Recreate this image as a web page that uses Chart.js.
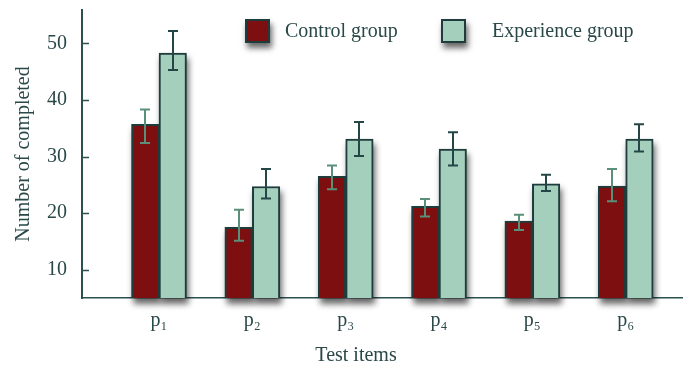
<!DOCTYPE html>
<html>
<head>
<meta charset="utf-8">
<script src="https://cdn.jsdelivr.net/npm/chart.js@4.4.1/dist/chart.umd.min.js"></script>
<style>
  html, body { margin: 0; padding: 0; background: #ffffff; }
  canvas { display: block; }
</style>
</head>
<body>
<canvas id="chart" width="683" height="367"></canvas>
<script>
// Test items and their subscript tick labels
const categories = ['p1', 'p2', 'p3', 'p4', 'p5', 'p6'];
const tickLabels = ['p\u2081', 'p\u2082', 'p\u2083', 'p\u2084', 'p\u2085', 'p\u2086'];
const yTicks = [10, 20, 30, 40, 50];

// Mean number of completed items per group
const controlValues = [35.7, 17.5, 26.5, 21.2, 18.6, 24.8];
const experienceValues = [48.3, 24.7, 33.1, 31.3, 25.2, 33.1];

// Error bar extents (low / high)
const controlLow = [32.4, 15.1, 24.2, 19.4, 17.0, 22.1];
const controlHigh = [38.3, 20.6, 28.4, 22.5, 19.7, 27.8];
const experienceLow = [45.3, 22.6, 30.1, 28.4, 23.9, 30.9];
const experienceHigh = [52.2, 27.8, 36.1, 34.3, 26.8, 35.7];

const seriesNames = ['Control group', 'Experience group'];

const TEXT = '#2a4848';
const EDGE = '#1f3c3c';
const AXIS = '#2b5050';
const RED = '#7d0f10';
const GREEN = '#a5cfbd';
const FONT = "'Liberation Serif', 'Times New Roman', serif";
const Y_MIN = 5;

const toPoints = vals => vals.map((v, i) => ({ x: i + 1, y: v }));

// Blurred drop shadow behind each bar, painted from the bar elements' geometry
const barShadow = {
  id: 'barShadow',
  beforeDatasetsDraw(chart) {
    const ctx = chart.ctx;
    ctx.save();
    ctx.filter = 'blur(3px)';
    ctx.fillStyle = 'rgba(0,0,0,0.6)';
    chart.data.datasets.forEach((ds, d) => {
      chart.getDatasetMeta(d).data.forEach(bar => {
        const p = bar.getProps(['x', 'y', 'base', 'width'], true);
        ctx.fillRect(p.x - p.width / 2 + 2, p.y + 5, p.width, p.base - p.y + 1);
      });
    });
    ctx.restore();
  }
};

// Error bars drawn on top of each bar
const errorBars = {
  id: 'errorBars',
  afterDatasetsDraw(chart) {
    const ctx = chart.ctx;
    const y = chart.scales.y;
    const specs = [
      { low: controlLow, high: controlHigh, color: '#5a8f79' },
      { low: experienceLow, high: experienceHigh, color: '#244646' }
    ];
    ctx.save();
    specs.forEach((s, d) => {
      const meta = chart.getDatasetMeta(d);
      meta.data.forEach((bar, i) => {
        const x = Math.round(bar.x);
        const yl = y.getPixelForValue(s.low[i]);
        const yh = y.getPixelForValue(s.high[i]);
        const cap = 5;
        ctx.strokeStyle = s.color;
        ctx.lineWidth = 2;
        ctx.beginPath();
        ctx.moveTo(x, yl); ctx.lineTo(x, yh);
        ctx.moveTo(x - cap, yh); ctx.lineTo(x + cap, yh);
        ctx.moveTo(x - cap, yl); ctx.lineTo(x + cap, yl);
        ctx.stroke();
      });
    });
    ctx.restore();
  }
};

// Inward tick marks on the value axis, x-axis title and legend
const decorations = {
  id: 'decorations',
  afterDraw(chart) {
    const ctx = chart.ctx;
    const y = chart.scales.y;
    const area = chart.chartArea;
    ctx.save();
    ctx.strokeStyle = AXIS;
    ctx.lineWidth = 1.5;
    ctx.beginPath();
    yTicks.forEach(t => {
      const py = Math.round(y.getPixelForValue(t)) + 0.5;
      ctx.moveTo(area.left, py);
      ctx.lineTo(area.left + 7, py);
    });
    ctx.stroke();

    ctx.fillStyle = TEXT;
    ctx.font = '20px ' + FONT;
    ctx.textAlign = 'center';
    ctx.textBaseline = 'alphabetic';
    ctx.fillText('Test items', 356, 361);

    // legend
    const items = [
      { box: 245, text: 285, color: RED, label: chart.data.datasets[0].label },
      { box: 441, text: 492, color: GREEN, label: chart.data.datasets[1].label }
    ];
    items.forEach(it => {
      ctx.save();
      ctx.shadowColor = 'rgba(0,0,0,0.6)';
      ctx.shadowBlur = 6;
      ctx.shadowOffsetX = 2;
      ctx.shadowOffsetY = 5;
      ctx.fillStyle = it.color;
      ctx.fillRect(it.box, 19, 25, 24);
      ctx.restore();
      ctx.strokeStyle = EDGE;
      ctx.lineWidth = 2;
      ctx.strokeRect(it.box + 1, 20, 23, 22);
      ctx.fillStyle = TEXT;
      ctx.textAlign = 'left';
      ctx.textBaseline = 'alphabetic';
      ctx.fillText(it.label, it.text, 37);
    });
    ctx.restore();
  }
};

new Chart(document.getElementById('chart'), {
  type: 'bar',
  data: {
    datasets: [
      {
        label: seriesNames[0],
        data: toPoints(controlValues),
        backgroundColor: RED,
        borderColor: EDGE,
        borderWidth: 2,
        base: Y_MIN,
        clip: false
      },
      {
        label: seriesNames[1],
        data: toPoints(experienceValues),
        backgroundColor: GREEN,
        borderColor: EDGE,
        borderWidth: 2,
        base: Y_MIN,
        clip: false
      }
    ]
  },
  options: {
    responsive: false,
    devicePixelRatio: 1,
    animation: false,
    barThickness: 27.5,
    layout: { padding: { top: 10, right: 0, left: 0, bottom: 0 } },
    plugins: { legend: { display: false }, tooltip: { enabled: false } },
    scales: {
      x: {
        type: 'linear',
        offset: false,
        bounds: 'data',
        min: 0.175,
        max: 6.614,
        grid: { display: false, drawTicks: false },
        border: { display: true, color: AXIS, width: 1.5 },
        afterBuildTicks: s => { s.ticks = categories.map((c, i) => ({ value: i + 1 })); },
        afterFit: s => { s.height = 69; s.paddingLeft = 0; s.paddingRight = 0; },
        ticks: {
          autoSkip: false,
          maxRotation: 0,
          padding: 11,
          color: TEXT,
          font: { family: FONT, size: 20 },
          callback: v => tickLabels[Math.round(v) - 1]
        }
      },
      y: {
        min: Y_MIN,
        max: 55.9,
        grid: { display: false, drawTicks: false },
        border: { display: true, color: AXIS, width: 2 },
        afterBuildTicks: s => { s.ticks = yTicks.map(v => ({ value: v })); },
        afterFit: s => { s.width = 82; s.paddingTop = 0; s.paddingBottom = 0; },
        ticks: {
          padding: 15,
          color: TEXT,
          font: { family: FONT, size: 20 }
        },
        title: {
          display: true,
          text: 'Number of completed',
          color: TEXT,
          font: { family: FONT, size: 20 },
          padding: { top: 12, bottom: 0 }
        }
      }
    }
  },
  plugins: [barShadow, errorBars, decorations]
});
</script>
</body>
</html>
